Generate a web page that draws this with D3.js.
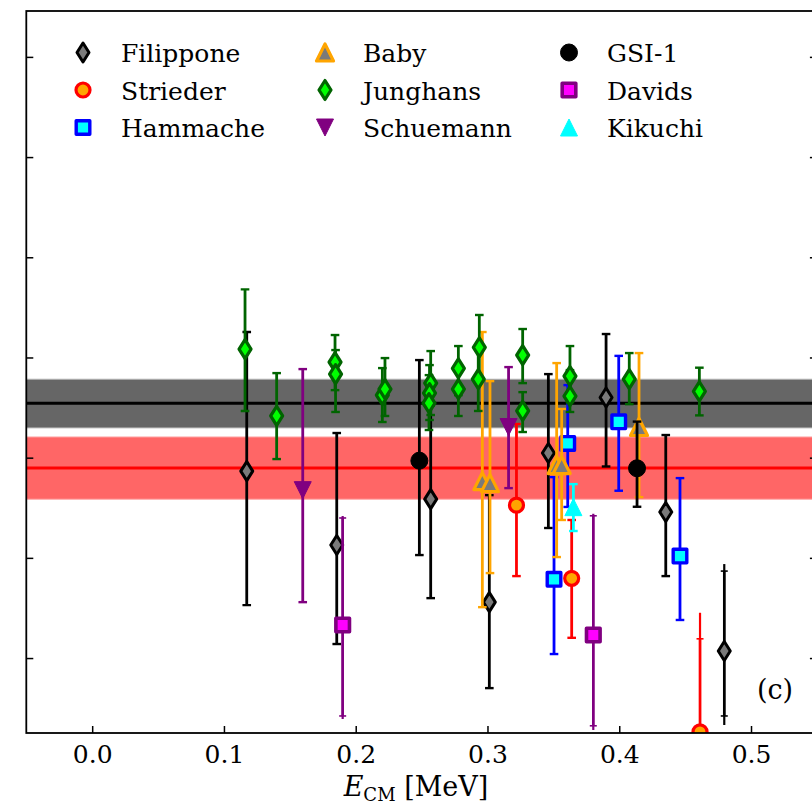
<!DOCTYPE html>
<html>
<head>
<meta charset="utf-8">
<script src="https://cdn.jsdelivr.net/npm/d3@7"></script>
<style>
  body { margin: 0; background: white; }
  text { font-family: "DejaVu Serif", "Liberation Serif", "Times New Roman", serif; }
</style>
</head>
<body>
<div id="chart"></div>
<script>
// ticks (y axis has no labels in the original)
var xTicks = [0.0, 0.1, 0.2, 0.3, 0.4, 0.5];
var yTicks = [0.40, 0.45, 0.50, 0.55, 0.60, 0.65, 0.70];

// bands: [centre, low, high]
var grayBand = [0.5272, 0.5148, 0.5392];
var redBand = [0.4948, 0.4793, 0.5103];

// points: [E_CM, value, low, high, (outerLow, outerHigh)]
var filippone = [
  [0.1173, 0.4933, 0.4264, 0.5627],
  [0.1856, 0.4564, 0.4070, 0.5123],
  [0.2569, 0.4793, 0.4299, 0.5262],
  [0.3014, 0.4279, 0.3850, 0.4813],
  [0.3462, 0.5023, 0.4649, 0.5417],
  [0.3900, 0.5300, 0.4956, 0.5617],
  [0.4353, 0.4729, 0.4409, 0.5113],
  [0.4797, 0.4035, 0.3711, 0.4434, 0.3666, 0.4469]
];
var strieder = [
  [0.3220, 0.4763, 0.4409, 0.5168],
  [0.3639, 0.4398, 0.4101, 0.4689],
  [0.4613, 0.3632, 0.3300, 0.4096, 0.3200, 0.4226]
];
var hammache = [
  [0.3505, 0.4393, 0.4020, 0.4903],
  [0.3609, 0.5071, 0.4754, 0.5362],
  [0.3996, 0.5179, 0.4835, 0.5508],
  [0.4461, 0.4509, 0.4190, 0.4898]
];
var baby = [
  [0.2961, 0.4883, 0.4254, 0.5627],
  [0.3019, 0.4873, 0.4424, 0.5382],
  [0.3525, 0.4963, 0.4504, 0.5472],
  [0.3563, 0.4963, 0.4689, 0.5243],
  [0.4150, 0.5153, 0.4803, 0.5522]
];
var junghans = [
  [0.1160, 0.5542, 0.5233, 0.5840],
  [0.1400, 0.5209, 0.4993, 0.5422],
  [0.1843, 0.5477, 0.5337, 0.5612],
  [0.1847, 0.5417, 0.5228, 0.5537],
  [0.2202, 0.5312, 0.5178, 0.5447],
  [0.2222, 0.5342, 0.5208, 0.5497],
  [0.2569, 0.5372, 0.5213, 0.5532],
  [0.2560, 0.5322, 0.5188, 0.5462],
  [0.2556, 0.5272, 0.5138, 0.5412],
  [0.2779, 0.5446, 0.5312, 0.5557],
  [0.2779, 0.5342, 0.5208, 0.5462],
  [0.2938, 0.5550, 0.5397, 0.5712],
  [0.2930, 0.5392, 0.5233, 0.5537],
  [0.3267, 0.5512, 0.5372, 0.5642],
  [0.3267, 0.5233, 0.5128, 0.5327],
  [0.3626, 0.5407, 0.5277, 0.5557],
  [0.3626, 0.5307, 0.5228, 0.5437],
  [0.4076, 0.5392, 0.5267, 0.5522],
  [0.4608, 0.5331, 0.5211, 0.5449]
];
var schuemann = [
  [0.1598, 0.4838, 0.4279, 0.5442],
  [0.3160, 0.5153, 0.4848, 0.5452]
];
var gsi1 = [
  [0.2483, 0.4985, 0.4514, 0.5487],
  [0.4135, 0.4947, 0.4755, 0.5180]
];
var davids = [
  [0.1901, 0.4165, 0.3711, 0.4699, 0.3696, 0.4709],
  [0.3803, 0.4115, 0.3662, 0.4710, 0.3641, 0.4720]
];
var kikuchi = [
  [0.3652, 0.4753, 0.4634, 0.4868]
];

var seriesNames = ["Filippone", "Strieder", "Hammache", "Baby", "Junghans",
                   "Schuemann", "GSI-1", "Davids", "Kikuchi"];
var seriesData = [filippone, strieder, hammache, baby, junghans,
                  schuemann, gsi1, davids, kikuchi];

// marker look per series
var styles = {
  "Filippone": {shape: "diamond", stroke: "black", fill: "#7a7a7a", bar: "black", sw: 3},
  "Strieder":  {shape: "circle", stroke: "red", fill: "orange", bar: "red", sw: 3.2},
  "Hammache":  {shape: "square", stroke: "blue", fill: "cyan", bar: "blue", sw: 3.4},
  "Baby":      {shape: "up", stroke: "orange", fill: "#7a7a7a", bar: "orange", sw: 3.2},
  "Junghans":  {shape: "diamond", stroke: "darkgreen", fill: "lime", bar: "darkgreen", sw: 3.2},
  "Schuemann": {shape: "down", stroke: "purple", fill: "purple", bar: "purple", sw: 1},
  "GSI-1":     {shape: "circle", stroke: "black", fill: "black", bar: "black", sw: 1},
  "Davids":    {shape: "square", stroke: "purple", fill: "magenta", bar: "purple", sw: 3.6},
  "Kikuchi":   {shape: "up", stroke: "cyan", fill: "cyan", bar: "cyan", sw: 1}
};

var W = 812, H = 808;
var plotL = 26.3, plotR = 816.9, plotT = 11, plotB = 733;

var svg = d3.select("#chart").append("svg")
  .attr("width", W).attr("height", H);

var x = d3.scaleLinear().domain([-0.05, 0.55]).range([plotL, plotR]);
var y = d3.scaleLinear().domain([0.3626, 0.7229]).range([plotB, plotT]);

svg.append("clipPath").attr("id", "plotclip")
  .append("rect")
    .attr("x", plotL).attr("y", plotT)
    .attr("width", plotR - plotL).attr("height", plotB - plotT);

var plot = svg.append("g").attr("clip-path", "url(#plotclip)");

// bands
function band(b, fill, edge, lineColor) {
  plot.append("rect")
    .attr("x", plotL).attr("width", plotR - plotL)
    .attr("y", y(b[2])).attr("height", y(b[1]) - y(b[2]))
    .style("fill", fill)
    .style("stroke", edge).style("stroke-width", 1);
  plot.append("line")
    .attr("x1", plotL).attr("x2", plotR)
    .attr("y1", y(b[0])).attr("y2", y(b[0]))
    .style("stroke", lineColor).style("stroke-width", 3);
}
band(grayBand, "#666666", "#c8c8c8", "black");
band(redBand, "#ff6666", "#ff9a9a", "red");

function markerPath(shape) {
  if (shape === "diamond") return "M0,-9.5L6,0L0,9.5L-6,0Z";
  if (shape === "square") return "M-6.8,-6.8L6.8,-6.8L6.8,6.8L-6.8,6.8Z";
  if (shape === "up") return "M0,-8.5L8.5,8.5L-8.5,8.5Z";
  if (shape === "down") return "M0,8.5L8.5,-8.5L-8.5,-8.5Z";
  return null;
}

function drawMarker(g, shape, st, cx, cy) {
  var m;
  if (shape === "circle") {
    var r = st.fill === "black" ? 8.5 : 7;
    m = g.append("circle").attr("cx", cx).attr("cy", cy).attr("r", r);
  } else {
    m = g.append("path").attr("d", markerPath(shape))
      .attr("transform", "translate(" + cx + "," + cy + ")");
  }
  m.style("fill", st.fill)
    .style("stroke", st.stroke)
    .style("stroke-width", st.sw)
    .style("stroke-linejoin", "round");
}

// error bars then markers, series by series
seriesData.forEach(function(data, si) {
  var st = styles[seriesNames[si]];
  var g = plot.append("g");
  data.forEach(function(d) {
    var cx = x(d[0]);
    var thin = d.length > 4;
    if (thin) {
      g.append("line")
        .attr("x1", cx).attr("x2", cx)
        .attr("y1", y(d[4])).attr("y2", y(d[5]))
        .style("stroke", st.bar).style("stroke-width", 2.2);
    }
    g.append("line")
      .attr("x1", cx).attr("x2", cx)
      .attr("y1", y(d[2])).attr("y2", y(d[3]))
      .style("stroke", st.bar).style("stroke-width", thin ? 2.6 : 2.8);
    [d[2], d[3]].forEach(function(v) {
      g.append("line")
        .attr("x1", cx - (thin ? 3.5 : 4.3)).attr("x2", cx + (thin ? 3.5 : 4.3))
        .attr("y1", y(v)).attr("y2", y(v))
        .style("stroke", st.bar).style("stroke-width", thin ? 1.6 : 2.4);
    });
  });
  data.forEach(function(d) {
    drawMarker(g, st.shape, st, x(d[0]), y(d[1]));
  });
});

// axes
var xAxis = svg.append("g")
  .attr("transform", "translate(0," + plotB + ")")
  .call(d3.axisBottom(x).tickValues(xTicks).tickSize(-7).tickPadding(12)
        .tickFormat(d3.format(".1f")));
xAxis.select(".domain").remove();
xAxis.selectAll("line").style("stroke-width", 1.5);
xAxis.selectAll("text").style("font-size", "25px").style("fill", "black")
  .style("font-family", "'DejaVu Serif', 'Liberation Serif', serif");

var yAxisL = svg.append("g")
  .attr("transform", "translate(" + plotL + ",0)")
  .call(d3.axisLeft(y).tickValues(yTicks).tickSize(-7).tickFormat(""));
yAxisL.select(".domain").remove();
yAxisL.selectAll("line").style("stroke-width", 1.5);

var yAxisR = svg.append("g")
  .attr("transform", "translate(" + plotR + ",0)")
  .call(d3.axisRight(y).tickValues(yTicks).tickSize(-7).tickFormat(""));
yAxisR.select(".domain").remove();
yAxisR.selectAll("line").style("stroke-width", 1.5);

svg.append("rect")
  .attr("x", plotL).attr("y", plotT)
  .attr("width", plotR - plotL).attr("height", plotB - plotT)
  .style("fill", "none").style("stroke", "black").style("stroke-width", 1.8);

// x label
var xl = svg.append("text")
  .attr("x", 416).attr("y", 796)
  .attr("text-anchor", "middle")
  .style("font-size", "27px");
xl.append("tspan").style("font-style", "italic").text("E");
xl.append("tspan").attr("dy", 5).style("font-size", "18px").text("CM");
xl.append("tspan").attr("dy", -5).text(" [MeV]");

// panel tag
svg.append("text")
  .attr("x", 775).attr("y", 699)
  .attr("text-anchor", "middle")
  .style("font-size", "27px")
  .text("(c)");

// legend, three columns of three
var legCols = [83, 325, 569];
var legRows = [52.5, 90, 127.5];
var legend = svg.append("g");
seriesNames.forEach(function(name, i) {
  var col = Math.floor(i / 3), row = i % 3;
  var st = styles[name];
  drawMarker(legend, st.shape, st, legCols[col], legRows[row]);
  legend.append("text")
    .attr("x", legCols[col] + 38).attr("y", legRows[row] + 9.5)
    .style("font-size", "25px")
    .text(name);
});
</script>
</body>
</html>
